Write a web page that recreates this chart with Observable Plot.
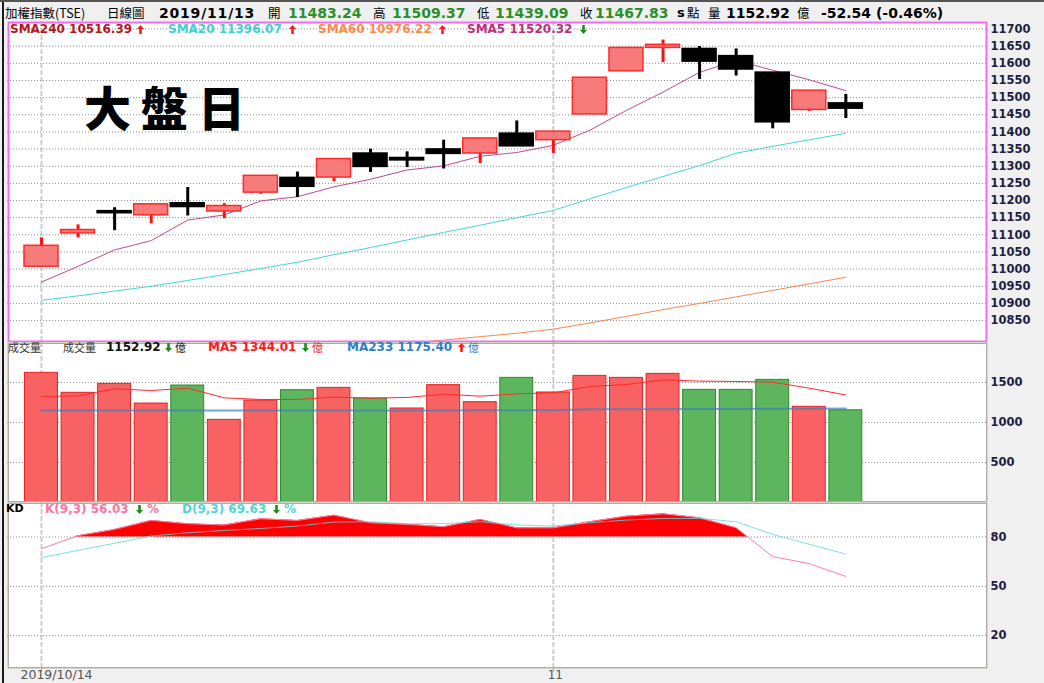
<!DOCTYPE html>
<html><head><meta charset="utf-8">
<script src="https://cdn.jsdelivr.net/npm/d3@7"></script>
<script src="https://cdn.jsdelivr.net/npm/@observablehq/plot@0.6"></script>
<style>
body{margin:0;background:#f0f0f0;}
#root{position:relative;width:1044px;height:683px;overflow:hidden;background:#f0f0f0;font-family:"DejaVu Sans","Noto Sans CJK TC",sans-serif;}
.t{position:absolute;white-space:nowrap;line-height:12px;height:12px;}
.panel{position:absolute;left:0;}
.ar{position:absolute;width:8px;height:9px;line-height:0;}
.ar svg{display:block;}
</style></head><body><div id="root"></div>
<script>
// ---------------- data ----------------
const dates = ["2019/10/14","2019/10/15","2019/10/16","2019/10/17","2019/10/18","2019/10/21","2019/10/22","2019/10/23","2019/10/24","2019/10/25","2019/10/28","2019/10/29","2019/10/30","2019/10/31","2019/11/01","2019/11/04","2019/11/05","2019/11/06","2019/11/07","2019/11/08","2019/11/11","2019/11/12","2019/11/13"];
const open  = [11007,11104,11169,11157,11192,11168,11223,11266,11267,11337,11324,11349,11337,11395,11376,11451,11577,11645,11642,11621,11573,11464,11483.24];
const high  = [11091,11129,11179,11189,11238,11191,11272,11283,11321,11350,11342,11376,11381,11432,11401,11559,11645,11668,11649,11642,11573,11520.37,11509.37];
const low   = [11007,11091,11112,11132,11155,11147,11218,11209,11255,11282,11296,11292,11308,11358,11337,11451,11577,11602,11553,11563,11409,11460,11439.09];
const close = [11068,11114,11163,11189,11181,11184,11272,11240,11321,11298,11317,11336,11381,11358,11401,11558,11645,11654,11605,11582,11428,11520.37,11467.83];
const sma5  = [10962,11008,11056,11083,11143,11158,11199,11211,11240,11262,11289,11301,11329,11340,11361,11405,11463,11516,11574,11608,11580,11552,11520.32];
const sma20 = [10909,10922,10936,10950,10967,10984,11002,11020,11042,11063,11085,11107,11128,11150,11171,11205,11238,11270,11302,11338,11358,11377,11396.07];
const sma60 = [10670,10680,10690,10700,10712,10724,10736,10748,10760,10772,10783,10793,10803,10813,10825,10843,10862,10882,10900,10919,10938,10957,10976.22];
const sma240Last = 10516.39;
const volume = [1621,1371,1483,1237,1462,1033,1275,1404,1433,1300,1175,1467,1254,1558,1375,1583,1558,1608,1408,1408,1533,1196,1152.92];
const volMA5 = [1325,1333,1421,1400,1429,1308,1288,1288,1317,1304,1313,1354,1329,1358,1371,1450,1475,1533,1517,1513,1504,1429,1344.01];
const volMA233 = [1150,1150,1150,1150,1150,1150,1150,1150,1150,1151,1151,1151,1152,1152,1153,1165,1166,1167,1168,1169,1171,1173,1175.40];
const kLine = [72.9,80.8,84.6,90.1,88.1,87.3,91.1,90.1,93.3,88.7,87.7,86.3,90.7,85.6,85.6,89.3,92.7,94.1,91.7,85.6,68.1,63.8,56.03];
const dLine = [67.5,71.9,76.2,80.6,82.6,84.0,85.2,86.7,89.1,89.3,88.1,88.1,89.3,87.3,86.7,88.7,90.3,91.3,91.3,89.3,81.6,75.6,69.63];
const priceTicks = [10850,10900,10950,11000,11050,11100,11150,11200,11250,11300,11350,11400,11450,11500,11550,11600,11650,11700];
const volTicks = [500,1000,1500];
const kdTicks = [20,50,80];
const xTickIdx = [0,14];
const xTickLabels = ["2019/10/14","11"];

// ---------------- helpers ----------------
const root = document.getElementById("root");
const n = dates.length;
const rows = dates.map((d,i)=>({i, d, o:open[i], h:high[i], l:low[i], c:close[i],
  up: close[i] >= open[i], volUp: i===0 ? true : close[i] >= close[i-1]}));
const X = {type:"linear", domain:[-0.930, 25.875], axis:null};
const HW = 0.465, VW = 0.45;
const common = {width:1044, marginLeft:7, marginRight:57, marginTop:0, marginBottom:0,
  x: X, color:{type:"identity"},
  style:{background:"#f0f0f0", fontFamily:"DejaVu Sans, sans-serif", fontSize:"11px", overflow:"visible"}};
const gridStyle = {stroke:"#8a8a8a", strokeOpacity:1, strokeDasharray:"1,2"};
const vRule = () => Plot.ruleX(xTickIdx, {x:d=>d, stroke:"#cdcdcd", strokeWidth:2, strokeDasharray:"5,2"});
const yAxis = (ticks) => Plot.axisY(ticks, {anchor:"right", label:null, tickSize:0, tickPadding:3, tickFormat:"d",
  fontWeight:"bold", fill:"#1e1e44", fontSize:11.5});

function place(el, top){ el.classList.add("panel"); el.style.top = top+"px"; root.appendChild(el); }
function txt(x, cy, s, {bold=false, color="#000", size=12, cjk=false, ls=0}={}){
  const e = document.createElement("div"); e.className="t"; e.textContent = s;
  e.style.left = x+"px"; e.style.top = (cy-6)+"px"; e.style.color = color;
  e.style.fontSize = size+"px"; e.style.fontWeight = bold ? "bold" : "normal";
  if (cjk) e.style.fontFamily = '"Noto Sans CJK TC", sans-serif';
  if (ls) e.style.letterSpacing = ls+"px";
  root.appendChild(e); return e;
}
function arrow(x, cy, up, color){
  const e = document.createElement("div"); e.className = "ar";
  e.style.left = x+"px"; e.style.top = (cy-4.5)+"px";
  const pts = up ? "3.5,0 7,4 4.8,4 4.8,9 2.2,9 2.2,4 0,4" : "3.5,9 7,5 4.8,5 4.8,0 2.2,0 2.2,5 0,5";
  e.innerHTML = `<svg width="8" height="9" viewBox="0 0 8 9"><polygon points="${pts}" fill="${color}"/></svg>`;
  root.appendChild(e);
}

// ---------------- price panel ----------------
const price = Plot.plot({...common, height:321,
  y:{domain:[10786, 11722], axis:null},
  marks:[
    Plot.frame({fill:"white", stroke:null}),
    Plot.gridY(priceTicks, gridStyle),
    vRule(),
    Plot.lineY(rows, {x:"i", y:d=>sma60[d.i], stroke:"#f5894f", strokeWidth:1, clip:true}),
    Plot.lineY(rows, {x:"i", y:d=>sma20[d.i], stroke:"#46d6d6", strokeWidth:1, clip:true}),
    Plot.lineY(rows, {x:"i", y:d=>sma5[d.i], stroke:"#bf4a8e", strokeWidth:1, clip:true}),
    Plot.ruleX(rows, {x:"i", y1:"l", y2:"h", stroke:d=>d.up?"#ff1010":"#000", strokeWidth:3}),
    Plot.rect(rows, {x1:d=>d.i-HW, x2:d=>d.i+HW, y1:"o", y2:"c",
      fill:d=>d.up?"#f77b7b":"#000", stroke:d=>d.up?"#ff2a2a":"#000", strokeWidth:1.5}),
    yAxis(priceTicks),
    Plot.frame({stroke:"#f06cf0", strokeWidth:2, inset:1})
  ]});
place(price, 21);

// ---------------- volume panel ----------------
const vol = Plot.plot({...common, height:160,
  y:{domain:[0,2000], axis:null},
  marks:[
    Plot.frame({fill:"white", stroke:null}),
    Plot.gridY(volTicks, gridStyle),
    vRule(),
    Plot.rect(rows, {x1:d=>d.i-VW, x2:d=>d.i+VW, y1:0, y2:d=>volume[d.i],
      fill:d=>d.volUp?"#f86262":"#5db55d", stroke:d=>d.volUp?"#e82020":"#2c8c2c", strokeWidth:1}),
    Plot.lineY(rows, {x:"i", y:d=>volMA233[d.i], stroke:"#3f7fbf", strokeWidth:2, strokeOpacity:0.7}),
    Plot.lineY(rows, {x:"i", y:d=>volMA5[d.i], stroke:"#ff2a2a", strokeWidth:1}),
    yAxis(volTicks),
    Plot.frame({stroke:"#b4aca4", strokeWidth:1.5, inset:0.75})
  ]});
place(vol, 342);

// ---------------- KD panel ----------------
const areaPts = [];
for (let i=0;i<n;i++){
  if (i>0 && (kLine[i-1]-80)*(kLine[i]-80) < 0){
    const t = (80-kLine[i-1])/(kLine[i]-kLine[i-1]);
    areaPts.push({x:i-1+t, y:80});
  }
  areaPts.push({x:i, y:Math.max(kLine[i],80)});
}
const xl = xTickIdx.map((v,j)=>({i:v, label:xTickLabels[j]}));
const kd = Plot.plot({...common, height:181, marginBottom:15,
  y:{domain:[0,101], axis:null},
  marks:[
    Plot.frame({fill:"white", stroke:null}),
    Plot.gridY(kdTicks, gridStyle),
    vRule(),
    Plot.areaY(areaPts, {x:"x", y1:80, y2:"y", fill:"#ff0000"}),
    Plot.lineY(rows, {x:"i", y:d=>kLine[d.i], stroke:"#ff7fa6", strokeWidth:1}),
    Plot.lineY(rows, {x:"i", y:d=>dLine[d.i], stroke:"#5fd8d8", strokeWidth:1, strokeOpacity:0.8}),
    yAxis(kdTicks),
    Plot.axisX(xTickIdx, {anchor:"bottom", label:null, tickSize:4, tickFormat:()=>"", stroke:"#b8aa55"}),
    Plot.text(xl.slice(0,1), {x:"i", text:"label", frameAnchor:"bottom", dy:10, dx:-21, textAnchor:"start", fill:"#555", fontWeight:"normal", fontSize:12.5}),
    Plot.text(xl.slice(1), {x:"i", text:"label", frameAnchor:"bottom", dy:10, dx:2, fill:"#555", fontWeight:"normal", fontSize:12}),
    Plot.frame({stroke:"#b4aca4", strokeWidth:1.5, inset:0.75})
  ]});
place(kd, 502);

// ---------------- borders ----------------
const lb = document.createElement("div");
Object.assign(lb.style,{position:"absolute",left:"2px",top:"0px",width:"2px",height:"683px",background:"#1a1a1a"});
root.appendChild(lb);
const tb = document.createElement("div");
Object.assign(tb.style,{position:"absolute",left:"0px",top:"0px",width:"1044px",height:"2px",background:"#555"});
root.appendChild(tb);

// ---------------- header ----------------
const green = "#2a8f2a";
const last = n-1;
const chg = close[last]-close[last-1];
const HY = 13;
txt(5,HY,"加權指數(TSE)",{cjk:true,size:12.5});
txt(107,HY,"日線圖",{cjk:true,size:12.5});
txt(159,HY,dates[last],{bold:true,size:14,ls:0.8});
txt(268,HY,"開",{cjk:true,size:12.5});
txt(288,HY,open[last].toFixed(2),{bold:true,size:14,color:green});
txt(373,HY,"高",{cjk:true,size:12.5});
txt(392,HY,high[last].toFixed(2),{bold:true,size:14,color:green});
txt(477,HY,"低",{cjk:true,size:12.5});
txt(495,HY,low[last].toFixed(2),{bold:true,size:14,color:green});
txt(580,HY,"收",{cjk:true,size:12.5});
txt(595,HY,close[last].toFixed(2),{bold:true,size:14,color:green});
txt(677,HY,"s",{bold:true,size:13});
txt(687,HY,"點",{cjk:true,size:12.5});
txt(708,HY,"量",{cjk:true,size:12.5});
txt(726,HY,volume[last].toFixed(2),{bold:true,size:14});
txt(797,HY,"億",{cjk:true,size:12.5});
txt(821,HY,`${chg.toFixed(2)} (${(chg/close[last-1]*100).toFixed(2)}%)`,{bold:true,size:14});

// ---------------- price legend ----------------
const red="#ff1a1a", dgreen="#1f8a1f";
const LY = 29;
txt(10,LY,`SMA240 ${sma240Last.toFixed(2)}`,{bold:true,color:"#b4181e"});
arrow(137,LY,true,red);
txt(168,LY,`SMA20 ${sma20[last].toFixed(2)}`,{bold:true,color:"#40d0d0"});
arrow(289,LY,true,red);
txt(318,LY,`SMA60 ${sma60[last].toFixed(2)}`,{bold:true,color:"#ff8a4a"});
arrow(439,LY,true,red);
txt(467,LY,`SMA5 ${sma5[last].toFixed(2)}`,{bold:true,color:"#b8327e"});
arrow(580,LY,false,dgreen);

// big label
const big = document.createElement("div");
big.textContent = "大盤日";
Object.assign(big.style,{position:"absolute",left:"84px",top:"76px",fontSize:"47px",fontWeight:"900",
  letterSpacing:"10px",fontFamily:'"Noto Sans CJK TC", sans-serif',color:"#000",lineHeight:"60px"});
root.appendChild(big);

// ---------------- volume legend ----------------
txt(8,347,"成交量",{cjk:true,size:11,color:"#333"});
txt(63,347,"成交量",{cjk:true,size:11,color:"#333"});
txt(106,347,volume[last].toFixed(2),{bold:true,color:"#111"});
arrow(165,347,false,dgreen);
txt(175,347,"億",{cjk:true,size:11,color:"#111"});
txt(208,347,`MA5 ${volMA5[last].toFixed(2)}`,{bold:true,color:"#ff1a1a"});
arrow(302,347,false,dgreen);
txt(312,347,"億",{cjk:true,size:11,color:"#ff1a1a"});
txt(347,347,`MA233 ${volMA233[last].toFixed(2)}`,{bold:true,color:"#2f7fc8"});
arrow(458,347,true,red);
txt(468,347,"億",{cjk:true,size:11,color:"#2f7fc8"});

// ---------------- KD legend ----------------
txt(6,509,"KD",{bold:true,size:11,color:"#000"});
txt(45,509,`K(9,3) ${kLine[last].toFixed(2)}`,{bold:true,color:"#ff72a2"});
arrow(136,509,false,dgreen);
txt(147,509,"%",{bold:true,color:"#ff72a2"});
txt(182,509,`D(9,3) ${dLine[last].toFixed(2)}`,{bold:true,color:"#4fd6d6"});
arrow(273,509,false,dgreen);
txt(284,509,"%",{bold:true,color:"#4fd6d6"});
</script>
</body></html>
